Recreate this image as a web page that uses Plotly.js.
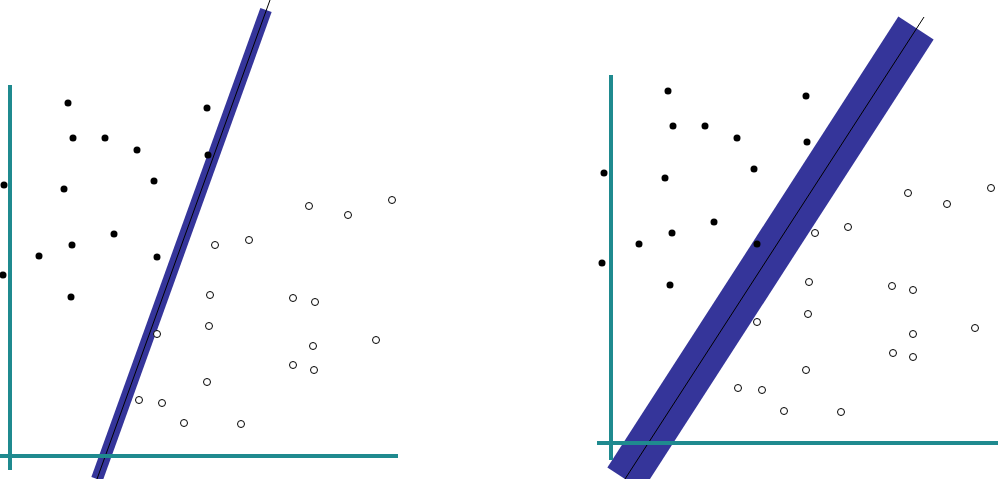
<!DOCTYPE html>
<html><head><meta charset="utf-8">
<script src="https://cdn.plot.ly/plotly-3.0.1.min.js"></script>
<style>html,body{margin:0;padding:0;background:#fff}</style>
</head><body>
<div id="chart" style="width:1008px;height:479px"></div>
<script>
// coordinates in picture units (x right, y down)
var leftBlackX = [68,207,73,105,137,208,154,4,64,114,72,39,157,3,71];
var leftBlackY = [103,108,138,138,150,155,181,185,189,234,245,256,257,275,297];
var leftOpenX = [309,348,392,215,249,210,293,315,157,209,376,313,293,314,207,139,162,184,241];
var leftOpenY = [206,215,200,245,240,295,298,302,334,326,340,346,365,370,382,400,403,423,424];
var rightBlackX = [668,806,673,705,737,807,754,604,665,714,672,639,757,602,670];
var rightBlackY = [91,96,126,126,138,142,169,173,178,222,233,244,244,263,285];
var rightOpenX = [908,947,991,815,848,809,892,913,757,808,975,913,893,913,806,738,762,784,841];
var rightOpenY = [193,204,188,233,227,282,286,290,322,314,328,334,353,357,370,388,390,411,412];
var leftBandX = [97,266], leftBandY = [479,10];
var leftLineX = [97,270], leftLineY = [479,0];
var rightBandX = [625,916], rightBandY = [479,28];
var rightLineX = [625,924], rightLineY = [479,17];
var leftAxisX = [10,10,null,0,398], leftAxisY = [85,470,null,456,456];
var rightAxisX = [611,611,null,597,998], rightAxisY = [75,460,null,443,443];

var teal = '#1f8a8f', band = '#35359a';
var data = [
  {x: leftBandX, y: leftBandY, mode: 'lines', line: {color: band, width: 12}},
  {x: rightBandX, y: rightBandY, mode: 'lines', line: {color: band, width: 42}},
  {x: leftLineX, y: leftLineY, mode: 'lines', line: {color: '#000', width: 1}},
  {x: rightLineX, y: rightLineY, mode: 'lines', line: {color: '#000', width: 1}},
  {x: leftAxisX, y: leftAxisY, mode: 'lines', line: {color: teal, width: 4}},
  {x: rightAxisX, y: rightAxisY, mode: 'lines', line: {color: teal, width: 4}},
  {x: leftBlackX.concat(rightBlackX), y: leftBlackY.concat(rightBlackY), mode: 'markers',
   marker: {color: '#000', size: 7}},
  {x: leftOpenX.concat(rightOpenX), y: leftOpenY.concat(rightOpenY), mode: 'markers',
   marker: {color: '#fff', size: 7, line: {color: '#000', width: 1}}}
];
var layout = {
  width: 1008, height: 479, showlegend: false,
  margin: {l: 0, r: 0, t: 0, b: 0},
  paper_bgcolor: '#fff', plot_bgcolor: '#fff',
  xaxis: {range: [0, 1008], visible: false},
  yaxis: {range: [479, 0], visible: false}
};
Plotly.newPlot('chart', data, layout, {displayModeBar: false});
</script>
</body></html>
